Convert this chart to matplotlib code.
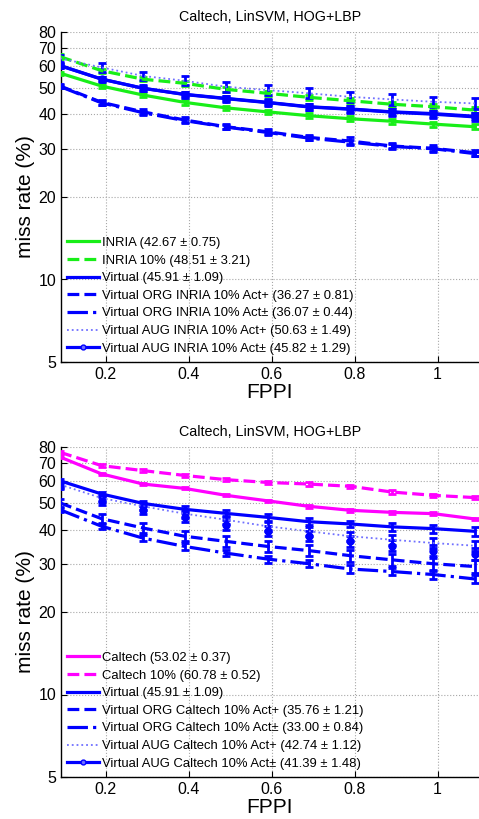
import numpy as np
import matplotlib
matplotlib.use('Agg')
from matplotlib import pyplot as plt
from matplotlib.lines import Line2D

plt.rcParams['font.family'] = ['Liberation Sans', 'DejaVu Sans']

# fppi sample points (shared by all curves)
fppi = [0.09, 0.19, 0.29, 0.39, 0.49, 0.59, 0.69, 0.79, 0.89, 0.99, 1.09]

# top panel: INRIA based training
inria = [56.6, 50.8, 47.1, 44.3, 42.3, 40.9, 39.6, 38.6, 37.8, 36.9, 36.1]
inria_err = [0.8, 0.8, 0.8, 0.8, 0.8, 0.8, 0.8, 0.8, 0.8, 0.8, 0.8]
inria10 = [65.0, 57.8, 53.8, 52.0, 49.4, 47.8, 46.2, 44.9, 43.6, 42.7, 41.5]
inria10_err = [1.5, 1.0, 1.0, 1.0, 1.0, 1.0, 1.0, 1.0, 1.0, 1.0, 1.0]
virtual = [60.2, 53.9, 49.8, 47.4, 45.8, 44.3, 42.7, 41.9, 40.9, 40.3, 39.4]
virtual_err = [1.0, 1.0, 1.0, 1.0, 1.0, 1.0, 1.0, 1.0, 1.0, 1.0, 1.0]
org_inria_p = [50.8, 44.3, 40.9, 38.2, 36.1, 34.6, 33.0, 32.0, 30.7, 30.1, 29.0]
org_inria_p_err = [0.8, 1.0, 1.0, 1.0, 0.8, 0.8, 0.8, 1.0, 0.8, 0.8, 0.8]
org_inria_pm = [50.6, 44.1, 40.6, 38.0, 36.0, 34.4, 32.8, 31.7, 30.6, 30.0, 28.8]
org_inria_pm_err = [0.5, 0.6, 0.6, 0.6, 0.5, 0.5, 0.5, 0.6, 0.5, 0.5, 0.5]
aug_inria_p = [64.1, 59.4, 55.3, 53.1, 50.5, 49.1, 47.8, 46.4, 45.4, 44.5, 43.9]
aug_inria_p_err = [2.0, 2.0, 2.0, 2.0, 2.0, 2.0, 2.0, 2.0, 2.0, 2.0, 2.0]
aug_inria_pm = [60.4, 53.8, 49.9, 47.3, 45.7, 44.2, 42.6, 41.8, 40.8, 40.1, 39.2]
aug_inria_pm_err = [1.2, 1.2, 1.2, 1.2, 1.2, 1.2, 1.2, 1.2, 1.2, 1.2, 1.2]

top_labels = ['INRIA (42.67 \u00b1 0.75)',
              'INRIA 10% (48.51 \u00b1 3.21)',
              'Virtual (45.91 \u00b1 1.09)',
              'Virtual ORG INRIA 10% Act+ (36.27 \u00b1 0.81)',
              'Virtual ORG INRIA 10% Act\u00b1 (36.07 \u00b1 0.44)',
              'Virtual AUG INRIA 10% Act+ (50.63 \u00b1 1.49)',
              'Virtual AUG INRIA 10% Act\u00b1 (45.82 \u00b1 1.29)']

# bottom panel: Caltech based training
caltech = [73.5, 63.8, 58.6, 56.5, 53.3, 50.9, 48.6, 47.0, 46.2, 45.7, 43.7]
caltech_err = [0.5, 0.5, 0.5, 0.5, 0.5, 0.5, 0.5, 0.5, 0.5, 0.5, 0.5]
caltech10 = [76.5, 68.4, 65.6, 63.0, 60.8, 59.4, 58.6, 57.5, 54.8, 53.3, 52.3]
caltech10_err = [0.8, 0.8, 0.8, 0.8, 0.8, 0.8, 0.8, 0.8, 0.8, 0.8, 0.8]
virtual_err_b = [1.0, 1.0, 1.2, 1.2, 1.2, 1.2, 1.2, 1.2, 1.4, 1.4, 1.4]
org_cal_p = [50.0, 43.8, 40.5, 37.8, 36.2, 34.7, 33.5, 32.1, 31.0, 30.0, 29.3]
org_cal_p_err = [1.5, 1.6, 1.6, 1.6, 1.6, 1.6, 1.6, 1.6, 1.6, 1.6, 1.6]
org_cal_pm = [47.2, 41.1, 37.2, 34.7, 32.8, 31.2, 30.0, 28.7, 28.1, 27.4, 26.4]
org_cal_pm_err = [0.9, 0.9, 0.9, 0.9, 0.9, 0.9, 0.9, 0.9, 0.9, 0.9, 0.9]
aug_cal_p = [58.3, 52.1, 48.6, 45.7, 43.4, 41.1, 39.4, 37.8, 36.7, 35.7, 34.9]
aug_cal_p_err = [1.5, 1.5, 1.5, 1.5, 1.5, 1.5, 1.5, 1.5, 1.5, 1.5, 1.5]
aug_cal_pm = [57.8, 50.9, 47.0, 44.3, 41.6, 39.6, 37.8, 36.2, 34.9, 33.5, 32.6]
aug_cal_pm_err = [1.6, 1.6, 1.6, 1.6, 1.6, 1.6, 1.6, 1.6, 1.6, 1.6, 1.6]

bottom_labels = ['Caltech (53.02 \u00b1 0.37)',
                 'Caltech 10% (60.78 \u00b1 0.52)',
                 'Virtual (45.91 \u00b1 1.09)',
                 'Virtual ORG Caltech 10% Act+ (35.76 \u00b1 1.21)',
                 'Virtual ORG Caltech 10% Act\u00b1 (33.00 \u00b1 0.84)',
                 'Virtual AUG Caltech 10% Act+ (42.74 \u00b1 1.12)',
                 'Virtual AUG Caltech 10% Act\u00b1 (41.39 \u00b1 1.48)']

yticks = [5, 10, 20, 30, 40, 50, 60, 70, 80]
xticks = [0.2, 0.4, 0.6, 0.8, 1.0]
xtick_labels = ['0.2', '0.4', '0.6', '0.8', '1']

GREEN = '#18ee18'
MAG = '#ff00ff'
BLUE = '#0000ff'
LBLUE = '#7070ff'


def draw(ax, y, err, color, ls, lw, label, marker=None, ecolor=None, line=True):
    ax.errorbar(fppi, y, yerr=err, fmt='none', ecolor=ecolor or color,
                elinewidth=2.0, capsize=3, capthick=2.0, zorder=3)
    ax.plot(fppi, y, color=color, ls=ls if line else 'none', lw=lw,
            marker=marker, ms=5, label=label, zorder=4)


def style(ax):
    ax.set_yscale('log')
    ax.set_xlim(0.092, 1.1)
    ax.set_ylim(5, 80)
    ax.set_yticks(yticks)
    ax.set_yticklabels([str(t) for t in yticks])
    ax.yaxis.set_minor_locator(matplotlib.ticker.NullLocator())
    ax.set_xticks(xticks)
    ax.set_xticklabels(xtick_labels)
    ax.tick_params(direction='in', length=4, labelsize=11.5, width=0.8)
    ax.grid(True, ls=':', color='#a8a8a8', lw=0.8)
    ax.set_axisbelow(True)
    for s in ['top', 'right']:
        ax.spines[s].set_visible(False)
    for s in ['left', 'bottom']:
        ax.spines[s].set_linewidth(1.0)
    ax.set_xlabel('FPPI', fontsize=15, labelpad=1)
    ax.set_ylabel('miss rate (%)', fontsize=15, labelpad=2)
    ax.set_title('Caltech, LinSVM, HOG+LBP', fontsize=10.3, pad=8)


fig = plt.figure(figsize=(4.79, 8.19), dpi=100)
ax1 = fig.add_axes([61 / 479, 457 / 819, 418 / 479, 330 / 819])
ax2 = fig.add_axes([61 / 479, 42 / 819, 418 / 479, 330 / 819])

# top panel
draw(ax1, inria, inria_err, GREEN, '-', 2.3, top_labels[0])
draw(ax1, inria10, inria10_err, GREEN, '--', 2.3, top_labels[1])
draw(ax1, virtual, virtual_err, BLUE, '-', 2.3, top_labels[2])
draw(ax1, org_inria_p, org_inria_p_err, BLUE, '--', 2.3, top_labels[3])
draw(ax1, org_inria_pm, org_inria_pm_err, BLUE, '-.', 2.3, top_labels[4])
draw(ax1, aug_inria_p, aug_inria_p_err, LBLUE, ':', 1.3, top_labels[5], ecolor=BLUE)
draw(ax1, aug_inria_pm, aug_inria_pm_err, BLUE, '-', 2.3, top_labels[6], marker='o')

# bottom panel
draw(ax2, caltech, caltech_err, MAG, '-', 2.3, bottom_labels[0])
draw(ax2, caltech10, caltech10_err, MAG, '--', 2.3, bottom_labels[1])
draw(ax2, virtual, virtual_err_b, BLUE, '-', 2.3, bottom_labels[2])
draw(ax2, org_cal_p, org_cal_p_err, BLUE, '--', 2.3, bottom_labels[3])
draw(ax2, org_cal_pm, org_cal_pm_err, BLUE, '-.', 2.3, bottom_labels[4])
draw(ax2, aug_cal_p, aug_cal_p_err, LBLUE, ':', 1.3, bottom_labels[5], ecolor=BLUE)
draw(ax2, aug_cal_pm, aug_cal_pm_err, BLUE, '-', 2.3, bottom_labels[6], marker='o', line=False)

for ax in (ax1, ax2):
    style(ax)
    handles, labels = ax.get_legend_handles_labels()
    handles[-1] = Line2D([], [], color=BLUE, ls='-', lw=2.3, marker='o', ms=3.5,
                         mfc=LBLUE)
    ax.legend(handles, labels, loc='lower left', bbox_to_anchor=(0.015, 0.022),
              frameon=False, fontsize=9.4, handlelength=2.4, handletextpad=0.25,
              labelspacing=0.42, borderpad=0, borderaxespad=0)

fig.savefig('out.png', dpi=100)
